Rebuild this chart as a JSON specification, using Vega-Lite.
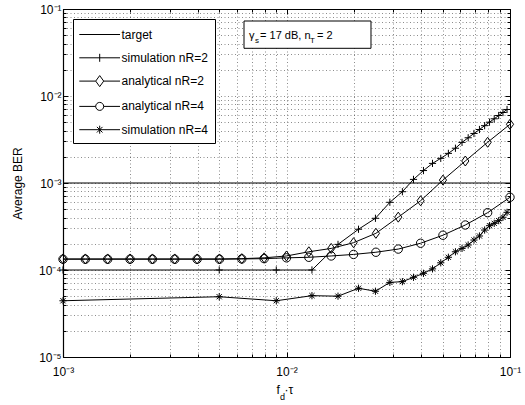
{
  "$schema": "https://vega.github.io/schema/vega-lite/v6.json",
  "width": 447,
  "height": 348,
  "autosize": "none",
  "padding": {"left": 63, "top": 9, "right": 15, "bottom": 48},
  "background": "white",
  "config": {
    "font": "Liberation Sans",
    "view": {"stroke": "#000", "strokeWidth": 1},
    "axis": {
      "domainColor": "#000", "tickColor": "#000", "labelColor": "#000", "titleColor": "#000",
      "labelFont": "Liberation Sans", "titleFont": "Liberation Sans",
      "labelFontSize": 12, "titleFontSize": 12, "titleFontWeight": "normal",
      "gridColor": "#000", "gridOpacity": 0.45, "gridDash": [1, 2.5], "gridWidth": 1,
      "domainWidth": 1.2, "tickWidth": 1, "labelOverlap": false, "labelFlush": false
    },
    "legend": {"labelFont": "Liberation Sans", "labelColor": "#000"}
  },
  "data": {
    "values": [
      {"s": "target", "x": 0.001, "y": 0.001},
      {"s": "target", "x": 0.1, "y": 0.001},

      {"s": "simulation nR=2", "x": 0.001, "y": 0.0001},
      {"s": "simulation nR=2", "x": 0.005, "y": 0.0001},
      {"s": "simulation nR=2", "x": 0.009, "y": 0.0001},
      {"s": "simulation nR=2", "x": 0.013, "y": 0.0001},
      {"s": "simulation nR=2", "x": 0.017, "y": 0.000197},
      {"s": "simulation nR=2", "x": 0.021, "y": 0.000294},
      {"s": "simulation nR=2", "x": 0.025, "y": 0.000393},
      {"s": "simulation nR=2", "x": 0.029, "y": 0.0006},
      {"s": "simulation nR=2", "x": 0.033, "y": 0.000794},
      {"s": "simulation nR=2", "x": 0.037, "y": 0.0011},
      {"s": "simulation nR=2", "x": 0.041, "y": 0.00139},
      {"s": "simulation nR=2", "x": 0.045, "y": 0.00168},
      {"s": "simulation nR=2", "x": 0.049, "y": 0.00192},
      {"s": "simulation nR=2", "x": 0.053, "y": 0.00219},
      {"s": "simulation nR=2", "x": 0.057, "y": 0.00251},
      {"s": "simulation nR=2", "x": 0.061, "y": 0.00293},
      {"s": "simulation nR=2", "x": 0.065, "y": 0.00331},
      {"s": "simulation nR=2", "x": 0.069, "y": 0.00371},
      {"s": "simulation nR=2", "x": 0.073, "y": 0.00412},
      {"s": "simulation nR=2", "x": 0.077, "y": 0.00456},
      {"s": "simulation nR=2", "x": 0.081, "y": 0.005},
      {"s": "simulation nR=2", "x": 0.085, "y": 0.00547},
      {"s": "simulation nR=2", "x": 0.089, "y": 0.00597},
      {"s": "simulation nR=2", "x": 0.093, "y": 0.00646},
      {"s": "simulation nR=2", "x": 0.097, "y": 0.007},

      {"s": "analytical nR=2", "x": 0.001, "y": 0.000134},
      {"s": "analytical nR=2", "x": 0.0012589, "y": 0.000134},
      {"s": "analytical nR=2", "x": 0.0015849, "y": 0.000134},
      {"s": "analytical nR=2", "x": 0.0019953, "y": 0.000134},
      {"s": "analytical nR=2", "x": 0.0025119, "y": 0.000134},
      {"s": "analytical nR=2", "x": 0.0031623, "y": 0.000134},
      {"s": "analytical nR=2", "x": 0.0039811, "y": 0.000134},
      {"s": "analytical nR=2", "x": 0.0050119, "y": 0.000134},
      {"s": "analytical nR=2", "x": 0.0063096, "y": 0.000135},
      {"s": "analytical nR=2", "x": 0.0079433, "y": 0.000138},
      {"s": "analytical nR=2", "x": 0.01, "y": 0.000145},
      {"s": "analytical nR=2", "x": 0.012589, "y": 0.000162},
      {"s": "analytical nR=2", "x": 0.015849, "y": 0.000177},
      {"s": "analytical nR=2", "x": 0.019953, "y": 0.000206},
      {"s": "analytical nR=2", "x": 0.025119, "y": 0.000264},
      {"s": "analytical nR=2", "x": 0.031623, "y": 0.000405},
      {"s": "analytical nR=2", "x": 0.039811, "y": 0.000625},
      {"s": "analytical nR=2", "x": 0.050119, "y": 0.00108},
      {"s": "analytical nR=2", "x": 0.063096, "y": 0.00179},
      {"s": "analytical nR=2", "x": 0.079433, "y": 0.00294},
      {"s": "analytical nR=2", "x": 0.1, "y": 0.00473},

      {"s": "analytical nR=4", "x": 0.001, "y": 0.000133},
      {"s": "analytical nR=4", "x": 0.0012589, "y": 0.000133},
      {"s": "analytical nR=4", "x": 0.0015849, "y": 0.000133},
      {"s": "analytical nR=4", "x": 0.0019953, "y": 0.000133},
      {"s": "analytical nR=4", "x": 0.0025119, "y": 0.000133},
      {"s": "analytical nR=4", "x": 0.0031623, "y": 0.000133},
      {"s": "analytical nR=4", "x": 0.0039811, "y": 0.000133},
      {"s": "analytical nR=4", "x": 0.0050119, "y": 0.000133},
      {"s": "analytical nR=4", "x": 0.0063096, "y": 0.000134},
      {"s": "analytical nR=4", "x": 0.0079433, "y": 0.000135},
      {"s": "analytical nR=4", "x": 0.01, "y": 0.000138},
      {"s": "analytical nR=4", "x": 0.012589, "y": 0.00014},
      {"s": "analytical nR=4", "x": 0.015849, "y": 0.000145},
      {"s": "analytical nR=4", "x": 0.019953, "y": 0.000151},
      {"s": "analytical nR=4", "x": 0.025119, "y": 0.00016},
      {"s": "analytical nR=4", "x": 0.031623, "y": 0.000174},
      {"s": "analytical nR=4", "x": 0.039811, "y": 0.000203},
      {"s": "analytical nR=4", "x": 0.050119, "y": 0.000251},
      {"s": "analytical nR=4", "x": 0.063096, "y": 0.000329},
      {"s": "analytical nR=4", "x": 0.079433, "y": 0.000456},
      {"s": "analytical nR=4", "x": 0.1, "y": 0.000685},

      {"s": "simulation nR=4", "x": 0.001, "y": 0.0000443},
      {"s": "simulation nR=4", "x": 0.005, "y": 0.0000493},
      {"s": "simulation nR=4", "x": 0.009, "y": 0.0000443},
      {"s": "simulation nR=4", "x": 0.013, "y": 0.0000507},
      {"s": "simulation nR=4", "x": 0.017, "y": 0.00005},
      {"s": "simulation nR=4", "x": 0.021, "y": 0.0000617},
      {"s": "simulation nR=4", "x": 0.025, "y": 0.000057},
      {"s": "simulation nR=4", "x": 0.029, "y": 0.000072},
      {"s": "simulation nR=4", "x": 0.033, "y": 0.0000735},
      {"s": "simulation nR=4", "x": 0.037, "y": 0.0000824},
      {"s": "simulation nR=4", "x": 0.041, "y": 0.0000916},
      {"s": "simulation nR=4", "x": 0.045, "y": 0.000103},
      {"s": "simulation nR=4", "x": 0.049, "y": 0.000121},
      {"s": "simulation nR=4", "x": 0.053, "y": 0.00014},
      {"s": "simulation nR=4", "x": 0.057, "y": 0.000162},
      {"s": "simulation nR=4", "x": 0.061, "y": 0.000177},
      {"s": "simulation nR=4", "x": 0.065, "y": 0.000194},
      {"s": "simulation nR=4", "x": 0.069, "y": 0.000221},
      {"s": "simulation nR=4", "x": 0.073, "y": 0.000246},
      {"s": "simulation nR=4", "x": 0.077, "y": 0.000288},
      {"s": "simulation nR=4", "x": 0.081, "y": 0.000323},
      {"s": "simulation nR=4", "x": 0.085, "y": 0.000344},
      {"s": "simulation nR=4", "x": 0.089, "y": 0.000369},
      {"s": "simulation nR=4", "x": 0.093, "y": 0.000404},
      {"s": "simulation nR=4", "x": 0.097, "y": 0.00046}
    ]
  },
  "layer": [
    {
      "mark": {"type": "line", "color": "#000", "strokeWidth": 1},
      "encoding": {
        "x": {
          "field": "x", "type": "quantitative",
          "scale": {"type": "log", "domain": [0.001, 0.1], "nice": false},
          "axis": {
            "values": [0.001, 0.002, 0.003, 0.004, 0.005, 0.006, 0.007, 0.008, 0.009, 0.01, 0.02, 0.03, 0.04, 0.05, 0.06, 0.07, 0.08, 0.09, 0.1],
            "labelExpr": "datum.value==0.001?'10⁻³':datum.value==0.01?'10⁻²':datum.value==0.1?'10⁻¹':''",
            "tickSize": {"condition": {"test": "indexof([0.001,0.01,0.1], datum.value) >= 0", "value": -5}, "value": -3},
            "labelPadding": 14,
            "title": null,
            "grid": true
          }
        },
        "y": {
          "field": "y", "type": "quantitative",
          "scale": {"type": "log", "domain": [0.00001, 0.1], "nice": false},
          "axis": {
            "values": [0.00001, 0.00002, 0.00003, 0.00004, 0.00005, 0.00006, 0.00007, 0.00008, 0.00009, 0.0001, 0.0002, 0.0003, 0.0004, 0.0005, 0.0006, 0.0007, 0.0008, 0.0009, 0.001, 0.002, 0.003, 0.004, 0.005, 0.006, 0.007, 0.008, 0.009, 0.01, 0.02, 0.03, 0.04, 0.05, 0.06, 0.07, 0.08, 0.09, 0.1],
            "labelExpr": "datum.value==0.1?'10⁻¹':datum.value==0.01?'10⁻²':datum.value==0.001?'10⁻³':datum.value==0.0001?'10⁻⁴':datum.value==0.00001?'10⁻⁵':''",
            "tickSize": {"condition": {"test": "indexof([0.00001,0.0001,0.001,0.01,0.1], datum.value) >= 0", "value": -5}, "value": -3},
            "labelPadding": 7,
            "title": "Average BER",
            "titleX": -39,
            "titleY": 174,
            "grid": true
          }
        },
        "detail": {"field": "s"}
      }
    },
    {
      "transform": [{"filter": "datum.s != 'target'"}],
      "mark": {"type": "point", "filled": false, "stroke": "#000", "strokeWidth": 1, "size": 64, "opacity": 1},
      "encoding": {
        "x": {"field": "x", "type": "quantitative", "axis": null},
        "y": {"field": "y", "type": "quantitative", "axis": null},
        "shape": {
          "field": "s", "type": "nominal",
          "scale": {
            "domain": ["simulation nR=2", "analytical nR=2", "analytical nR=4", "simulation nR=4"],
            "range": [
              "M-0.9,0H0.9M0,-0.9V0.9",
              "M0,-1.25L0.9,0L0,1.25L-0.9,0Z",
              "M1.05,0A1.05,1.05 0 1,1 -1.05,0A1.05,1.05 0 1,1 1.05,0Z",
              "M-0.9,0H0.9M0,-0.9V0.9M-0.65,-0.65L0.65,0.65M-0.65,0.65L0.65,-0.65"
            ]
          },
          "legend": null
        }
      }
    },
    {
      "mark": {"type": "point", "filled": false, "stroke": "#000", "strokeWidth": 1, "size": 256, "opacity": 0},
      "encoding": {
        "x": {"field": "x", "type": "quantitative",
          "axis": {"orient": "top", "labels": false, "domain": false, "grid": false, "title": null,
            "values": [0.001, 0.002, 0.003, 0.004, 0.005, 0.006, 0.007, 0.008, 0.009, 0.01, 0.02, 0.03, 0.04, 0.05, 0.06, 0.07, 0.08, 0.09, 0.1],
            "tickSize": {"condition": {"test": "indexof([0.001,0.01,0.1], datum.value) >= 0", "value": -5}, "value": -3}}},
        "y": {"field": "y", "type": "quantitative",
          "axis": {"orient": "right", "labels": false, "domain": false, "grid": false, "title": null,
            "values": [0.00001, 0.00002, 0.00003, 0.00004, 0.00005, 0.00006, 0.00007, 0.00008, 0.00009, 0.0001, 0.0002, 0.0003, 0.0004, 0.0005, 0.0006, 0.0007, 0.0008, 0.0009, 0.001, 0.002, 0.003, 0.004, 0.005, 0.006, 0.007, 0.008, 0.009, 0.01, 0.02, 0.03, 0.04, 0.05, 0.06, 0.07, 0.08, 0.09, 0.1],
            "tickSize": {"condition": {"test": "indexof([0.00001,0.0001,0.001,0.01,0.1], datum.value) >= 0", "value": -5}, "value": -3}}},
        "shape": {
          "field": "s", "type": "nominal",
          "scale": {
            "domain": ["target", "simulation nR=2", "analytical nR=2", "analytical nR=4", "simulation nR=4"],
            "range": [
              "M-1.15,0H3.94",
              "M-1.15,0H3.94M1.4,-0.5V0.5",
              "M-1.15,0H0.9M1.9,0H3.94M1.4,-0.69L1.9,0L1.4,0.69L0.9,0Z",
              "M-1.15,0H0.9M1.9,0H3.94M1.9,0A0.5,0.5 0 1,1 0.9,0A0.5,0.5 0 1,1 1.9,0Z",
              "M-1.15,0H3.94M1.4,-0.5V0.5M1.05,-0.35L1.75,0.35M1.05,0.35L1.75,-0.35"
            ]
          },
          "legend": {
            "title": null, "orient": "top-left", "offset": 10, "padding": 7, "rowPadding": 8.3,
            "labelOffset": 24.5, "labelFontSize": 12, "symbolSize": 256,
            "strokeColor": "#000", "fillColor": "#fff", "symbolStrokeColor": "#000",
            "symbolStrokeWidth": 1, "symbolOpacity": 1, "symbolFillColor": "transparent", "labelLimit": 300
          }
        }
      }
    },
    {
      "data": {"values": [{}]},
      "mark": {"type": "rect", "fill": "#fff", "stroke": "#000", "strokeWidth": 1},
      "encoding": {
        "x": {"datum": 0.006455, "type": "quantitative", "axis": null},
        "x2": {"datum": 0.02388},
        "y": {"datum": 0.07278, "type": "quantitative", "axis": null},
        "y2": {"datum": 0.03534}
      }
    },
    {
      "data": {"values": [{}]},
      "mark": {"type": "text", "text": "γ", "fontSize": 11, "align": "left", "baseline": "alphabetic", "color": "#000"},
      "encoding": {
        "x": {"datum": 0.0068, "type": "quantitative", "axis": null},
        "y": {"datum": 0.04484, "type": "quantitative", "axis": null}
      }
    },
    {
      "data": {"values": [{}]},
      "mark": {"type": "text", "text": "s", "fontSize": 8, "align": "left", "baseline": "alphabetic", "dx": 6, "dy": 4, "color": "#000"},
      "encoding": {
        "x": {"datum": 0.0068, "type": "quantitative", "axis": null},
        "y": {"datum": 0.04484, "type": "quantitative", "axis": null}
      }
    },
    {
      "data": {"values": [{}]},
      "mark": {"type": "text", "text": "= 17 dB, n", "fontSize": 11, "align": "left", "baseline": "alphabetic", "dx": 11, "color": "#000"},
      "encoding": {
        "x": {"datum": 0.0068, "type": "quantitative", "axis": null},
        "y": {"datum": 0.04484, "type": "quantitative", "axis": null}
      }
    },
    {
      "data": {"values": [{}]},
      "mark": {"type": "text", "text": "T", "fontSize": 8, "align": "left", "baseline": "alphabetic", "dx": 61, "dy": 4, "color": "#000"},
      "encoding": {
        "x": {"datum": 0.0068, "type": "quantitative", "axis": null},
        "y": {"datum": 0.04484, "type": "quantitative", "axis": null}
      }
    },
    {
      "data": {"values": [{}]},
      "mark": {"type": "text", "text": "= 2", "fontSize": 11, "align": "left", "baseline": "alphabetic", "dx": 68, "color": "#000"},
      "encoding": {
        "x": {"datum": 0.0068, "type": "quantitative", "axis": null},
        "y": {"datum": 0.04484, "type": "quantitative", "axis": null}
      }
    },
    {
      "data": {"values": [{}]},
      "mark": {"type": "text", "text": "f", "fontSize": 12, "align": "left", "baseline": "alphabetic", "dx": -10, "dy": 37, "color": "#000"},
      "encoding": {
        "x": {"datum": 0.01, "type": "quantitative", "axis": null},
        "y": {"datum": 0.00001, "type": "quantitative", "axis": null}
      }
    },
    {
      "data": {"values": [{}]},
      "mark": {"type": "text", "text": "d", "fontSize": 9, "align": "left", "baseline": "alphabetic", "dx": -6.5, "dy": 43, "color": "#000"},
      "encoding": {
        "x": {"datum": 0.01, "type": "quantitative", "axis": null},
        "y": {"datum": 0.00001, "type": "quantitative", "axis": null}
      }
    },
    {
      "data": {"values": [{}]},
      "mark": {"type": "text", "text": "·τ", "fontSize": 12, "align": "left", "baseline": "alphabetic", "dx": -2, "dy": 37, "color": "#000"},
      "encoding": {
        "x": {"datum": 0.01, "type": "quantitative", "axis": null},
        "y": {"datum": 0.00001, "type": "quantitative", "axis": null}
      }
    }
  ],
  "resolve": {"scale": {"shape": "independent"}, "axis": {"x": "independent", "y": "independent"}}
}
